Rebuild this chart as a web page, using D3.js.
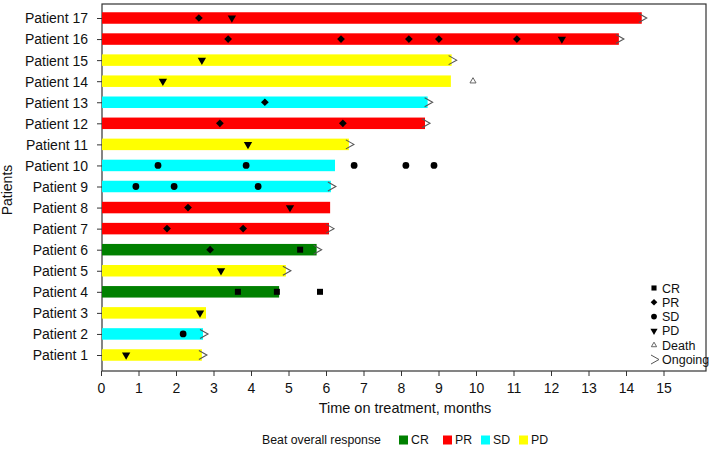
<!DOCTYPE html>
<html><head><meta charset="utf-8">
<script src="https://cdn.jsdelivr.net/npm/d3@7"></script>
<style>body{margin:0;background:#fff}svg{font-family:"Liberation Sans",Arial,Helvetica,sans-serif}</style>
</head><body><svg id="c" width="720" height="450"></svg>
<script>
const patients = ["Patient 1","Patient 2","Patient 3","Patient 4","Patient 5","Patient 6","Patient 7","Patient 8","Patient 9","Patient 10","Patient 11","Patient 12","Patient 13","Patient 14","Patient 15","Patient 16","Patient 17"];
const duration = [2.69,2.72,2.8,4.75,4.93,5.75,6.08,6.11,6.13,6.24,6.61,8.64,8.71,9.33,9.35,13.81,14.42];
const bestResponse = ["PD","SD","PD","CR","PD","CR","PR","PR","SD","SD","PD","PR","SD","PD","PD","PR","PR"];
const ongoing = [true,true,false,false,true,true,true,false,true,false,true,true,true,false,true,true,true];
const crEvents = [[4,3.65],[4,4.69],[4,5.84],[6,5.31]];
const prEvents = [[6,2.91],[7,1.76],[7,3.79],[8,2.32],[12,3.17],[12,6.45],[13,4.37],[16,3.39],[16,6.4],[16,8.21],[16,9.01],[16,11.09],[17,2.61]];
const sdEvents = [[2,2.19],[9,0.93],[9,1.95],[9,4.19],[10,1.52],[10,3.87],[10,6.75],[10,8.13],[10,8.88]];
const pdEvents = [[1,0.67],[3,2.64],[5,3.2],[8,5.04],[11,3.92],[14,1.65],[15,2.69],[16,12.29],[17,3.49]];
const deathEvents = [[14,9.92]];
const xTicks = [0,1,2,3,4,5,6,7,8,9,10,11,12,13,14,15];
const respCats = ["CR","PR","SD","PD"];
const respColors = ["#008000","#ff0000","#00ffff","#ffff00"];

const svg = d3.select("#c");
const L=102, R=706, T=4, B=371;
const x = d3.scaleLinear().domain([0,16.1]).range([101,101+16.1*37.5]);
const y = d3.scalePoint().domain(d3.range(1,18)).range([355,18]);
const color = d3.scaleOrdinal().domain(respCats).range(respColors);

svg.append("rect").attr("x",L).attr("y",T).attr("width",R-L).attr("height",B-T)
  .attr("fill","none").attr("stroke","#333").attr("stroke-width",1.2);

const bh=11.5;
svg.selectAll(".bar").data(patients).join("rect")
  .attr("x",x(0)+1).attr("y",(d,i)=>y(i+1)-bh/2)
  .attr("width",(d,i)=>x(duration[i])-x(0)-1).attr("height",bh)
  .attr("fill",(d,i)=>color(bestResponse[i]));

svg.selectAll(".ong").data(patients.map((p,i)=>i).filter(i=>ongoing[i])).join("path")
  .attr("d",i=>{const xe=x(duration[i]), yc=y(i+1); return `M${xe-3},${yc-4.5}L${xe+5},${yc}L${xe-3},${yc+4.5}`;})
  .attr("fill","none").attr("stroke","#555").attr("stroke-width",1.1);

const sym = (type,size)=>d3.symbol().type(type).size(size)();
function drawEvents(data, path, rot, fill, stroke){
  svg.append("g").selectAll("path").data(data).join("path")
    .attr("d",path)
    .attr("transform",d=>`translate(${x(d[1])},${y(d[0])}) rotate(${rot})`)
    .attr("fill",fill).attr("stroke",stroke||"none");
}
drawEvents(crEvents, sym(d3.symbolSquare,36), 0, "#000");
drawEvents(prEvents, sym(d3.symbolSquare,30), 45, "#000");
drawEvents(sdEvents, sym(d3.symbolCircle,36), 0, "#000");
drawEvents(pdEvents, sym(d3.symbolTriangle,30), 180, "#000");
drawEvents(deathEvents, sym(d3.symbolTriangle,16), 0, "none", "#666");

const yAxis = svg.append("g").attr("transform",`translate(${L},0)`)
  .call(d3.axisLeft(y).tickSize(5).tickPadding(9).tickFormat(d=>patients[d-1]));
yAxis.select(".domain").remove();
yAxis.selectAll("text").attr("font-size",14).attr("fill","#111").attr("dy","0.35em");
yAxis.selectAll("line").attr("stroke","#333");

const xAxis = svg.append("g").attr("transform",`translate(0,${B})`)
  .call(d3.axisBottom(x).tickValues(xTicks).tickSize(5).tickPadding(7).tickFormat(d3.format("d")));
xAxis.select(".domain").remove();
xAxis.selectAll("text").attr("font-size",14).attr("fill","#111");
xAxis.selectAll("line").attr("stroke","#333");

svg.append("text").attr("x",405).attr("y",413).attr("text-anchor","middle")
  .attr("font-size",14.5).attr("fill","#111").text("Time on treatment, months");
svg.append("text").attr("transform","translate(12,190) rotate(-90)").attr("text-anchor","middle")
  .attr("font-size",14).attr("fill","#111").text("Patients");

const legItems = [
  {lab:"CR", d:sym(d3.symbolSquare,26), rot:0, fill:"#000", stroke:"none"},
  {lab:"PR", d:sym(d3.symbolSquare,22), rot:45, fill:"#000", stroke:"none"},
  {lab:"SD", d:sym(d3.symbolCircle,26), rot:0, fill:"#000", stroke:"none"},
  {lab:"PD", d:sym(d3.symbolTriangle,22), rot:180, fill:"#000", stroke:"none"},
  {lab:"Death", d:sym(d3.symbolTriangle,12), rot:0, fill:"none", stroke:"#666"},
  {lab:"Ongoing", d:"M-4,-4.5L4,0L-4,4.5", rot:0, fill:"none", stroke:"#555"}
];
const lg = svg.append("g");
legItems.forEach((it,k)=>{
  const yy = 288 + k*14.3;
  lg.append("path").attr("d",it.d).attr("transform",`translate(${k==5?655:654},${yy}) rotate(${it.rot})`)
    .attr("fill",it.fill).attr("stroke",it.stroke);
  lg.append("text").attr("x",662).attr("y",yy).attr("dy","0.36em").attr("font-size",12.5).attr("fill","#111").text(it.lab);
});

const bl = svg.append("g");
bl.append("text").attr("x",262).attr("y",440).attr("dy","0.35em").attr("font-size",12.3).attr("fill","#111").text("Beat overall response");
const bx=[399,443,481,519];
respCats.forEach((c,k)=>{
  bl.append("rect").attr("x",bx[k]).attr("y",435.5).attr("width",9).attr("height",9).attr("fill",color(c));
  bl.append("text").attr("x",bx[k]+12).attr("y",440).attr("dy","0.35em").attr("font-size",12.3).attr("fill","#111").text(c);
});
</script></body></html>
